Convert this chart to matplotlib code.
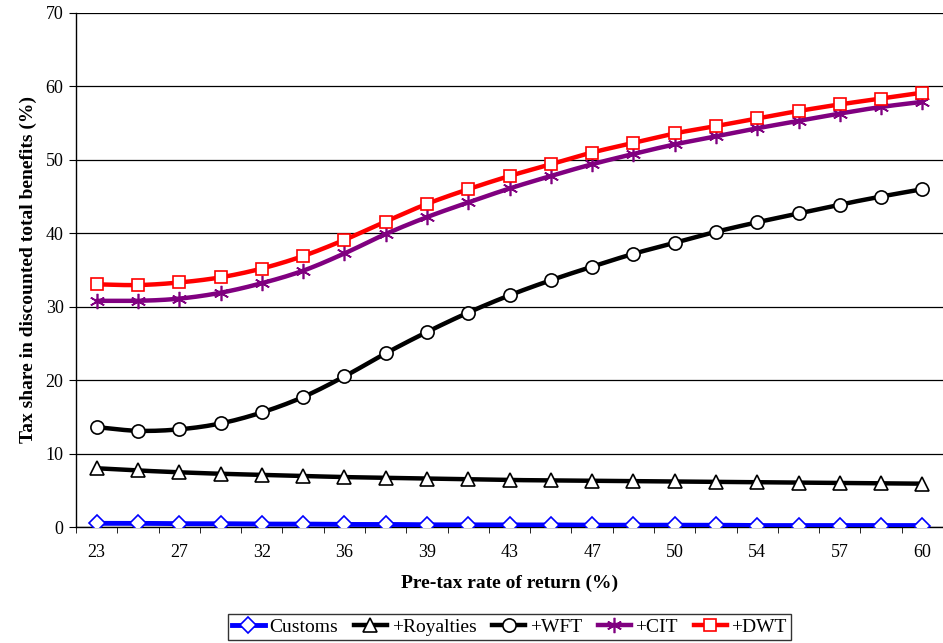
import numpy as np
import matplotlib
matplotlib.use("Agg")
import matplotlib.pyplot as plt

plt.rcParams["font.family"] = ["Liberation Serif", "DejaVu Serif"]

# ============================
# DATA
# ============================

x_labels = ["23", "27", "32", "36", "39", "43", "47", "50", "54", "57", "60"]
n_points = 21

customs = [0.5, 0.5, 0.45, 0.45, 0.4, 0.4, 0.35, 0.35, 0.3, 0.3, 0.3,
           0.3, 0.25, 0.25, 0.25, 0.25, 0.2, 0.2, 0.2, 0.2, 0.2]
royalties = [8.0, 7.7, 7.45, 7.25, 7.1, 6.95, 6.8, 6.7, 6.6, 6.5, 6.4,
             6.35, 6.3, 6.25, 6.2, 6.15, 6.1, 6.05, 6.0, 5.95, 5.9]
wft = [13.6, 13.1, 13.3, 14.1, 15.6, 17.7, 20.5, 23.65, 26.55, 29.2, 31.55,
       33.6, 35.45, 37.2, 38.7, 40.2, 41.5, 42.7, 43.9, 45.0, 46.0]
cit = [30.8, 30.8, 31.1, 31.9, 33.2, 34.9, 37.25, 39.9, 42.2, 44.2, 46.1,
       47.8, 49.4, 50.8, 52.1, 53.2, 54.3, 55.3, 56.3, 57.2, 57.9]
dwt = [33.05, 32.95, 33.3, 34.0, 35.2, 36.9, 39.1, 41.6, 44.0, 46.0, 47.8,
       49.4, 51.0, 52.3, 53.6, 54.6, 55.65, 56.65, 57.55, 58.35, 59.15]


def smooth(x, y, steps=12):
    # Catmull-Rom curve through the points (like a smoothed line)
    x = np.asarray(x, float)
    y = np.asarray(y, float)
    px = np.concatenate([[2 * x[0] - x[1]], x, [2 * x[-1] - x[-2]]])
    py = np.concatenate([[2 * y[0] - y[1]], y, [2 * y[-1] - y[-2]]])
    t = np.linspace(0, 1, steps, endpoint=False)
    xs, ys = [], []
    for i in range(1, len(px) - 2):
        for p, out in ((px, xs), (py, ys)):
            p0, p1, p2, p3 = p[i - 1], p[i], p[i + 1], p[i + 2]
            out.extend(0.5 * (2 * p1 + (-p0 + p2) * t
                              + (2 * p0 - 5 * p1 + 4 * p2 - p3) * t ** 2
                              + (-p0 + 3 * p1 - 3 * p2 + p3) * t ** 3))
    xs.append(x[-1])
    ys.append(y[-1])
    return np.array(xs), np.array(ys)


series = [
    ("Customs", customs, "#0000FF", "D", 8, 3.5),
    ("+Royalties", royalties, "black", "^", 10, 3.2),
    ("+WFT", wft, "black", "o", 9.5, 3.2),
    ("+CIT", cit, "#800080", (6, 2, 0), 11, 3.2),
    ("+DWT", dwt, "#FF0000", "s", 9, 3.2),
]

fig = plt.figure(figsize=(9.43, 6.43), dpi=100)
ax = fig.add_axes([0.0806, 0.1804, 0.9194, 0.7994])

x = np.arange(n_points)
handles = []
for name, vals, color, marker, ms, lw in series:
    sx, sy = smooth(x, vals)
    ax.plot(sx, sy, color=color, lw=lw, solid_capstyle="round", zorder=3)
    face = color if marker == (6, 2, 0) else "white"
    ax.plot(x, vals, ls="none", marker=marker, ms=ms, mfc=face,
            mec=color, mew=1.2, zorder=4)
    h, = ax.plot([], [], color=color, lw=lw, marker=marker, ms=ms,
                 mfc=face, mec=color, mew=1.2, label=name)
    handles.append(h)

ax.set_ylim(0, 70)
ax.set_yticks(range(0, 71, 10))
ax.set_xlim(-0.5, 20.36)
ax.set_xticks(x[::2])
ax.set_xticklabels(x_labels)
ax.set_xticks(np.arange(-0.5, n_points, 1), minor=True)
ax.tick_params(axis="x", which="major", length=0, pad=12, labelsize=13)
ax.tick_params(axis="x", which="minor", length=4, direction="out")
ax.tick_params(axis="y", length=5, direction="out", labelsize=13, pad=4)

ax.yaxis.grid(True, color="black", lw=0.9)
ax.set_axisbelow(True)
for s in ["top", "right"]:
    ax.spines[s].set_visible(False)
ax.spines["left"].set_linewidth(1.0)
ax.spines["bottom"].set_linewidth(1.0)
ax.spines["left"].set_zorder(5)

ax.set_xlabel("Pre-tax rate of return (%)", fontsize=14, fontweight="bold",
              labelpad=10)
ax.set_ylabel("Tax share in discounted total benefits (%)", fontsize=14,
              fontweight="bold", labelpad=6)

leg = fig.legend(handles=handles, loc="lower center", ncol=5,
                 bbox_to_anchor=(0.54, 0.002), frameon=True, fancybox=False,
                 fontsize=14, handlelength=1.7, handletextpad=0.25,
                 columnspacing=0.8, borderpad=0.2, borderaxespad=0.1)
leg.get_frame().set_edgecolor("black")
leg.get_frame().set_linewidth(1.0)

fig.savefig("out.png", dpi=100)
